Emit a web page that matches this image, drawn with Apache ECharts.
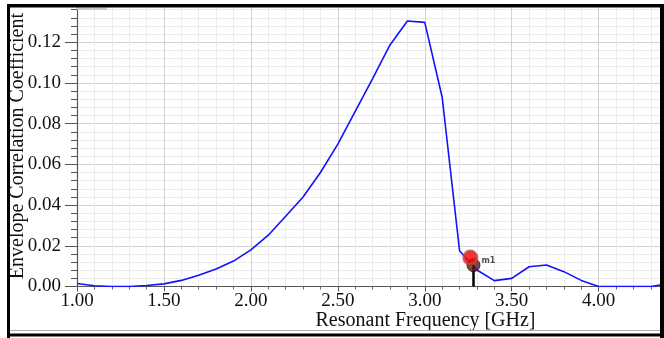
<!DOCTYPE html>
<html>
<head>
<meta charset="utf-8">
<script src="https://cdn.jsdelivr.net/npm/echarts@6/dist/echarts.min.js"></script>
<style>
html,body{margin:0;padding:0;background:#fff;}
#c{width:664px;height:338px;}
</style>
</head>
<body>
<div id="c"></div>
<script>
// Data
const freqGHz = [1.00,1.10,1.20,1.30,1.40,1.50,1.60,1.70,1.80,1.90,2.00,2.10,2.20,2.30,2.40,2.50,2.60,2.70,2.80,2.90,3.00,3.10,3.20,3.30,3.40,3.50,3.60,3.70,3.80,3.90,4.00,4.10,4.20,4.30,4.37];
const ecc     = [0.0015,0.0004,0.0000,0.0000,0.0005,0.0013,0.0030,0.0055,0.0086,0.0125,0.0180,0.0252,0.0345,0.0440,0.0560,0.0700,0.0860,0.1022,0.1187,0.1305,0.1298,0.0930,0.0176,0.0081,0.0029,0.0040,0.0097,0.0106,0.0073,0.0030,0.0000,0.0000,0.0000,0.0000,0.0010];
const markerName = 'm1';
const markerFreq = 3.28;
const markerValue = 0.0105;
const highlightFreq = 3.262;
const highlightValue = 0.0142;
const xTicks = {min:1.0, max:4.37, step:0.5};
const yTicks = {min:0.0, max:0.14, step:0.02};

const chart = echarts.init(document.getElementById('c'), null, {renderer:'canvas'});
const serif = '"Liberation Serif","DejaVu Serif",serif';

const option = {
  backgroundColor:'#ffffff',
  animation:false,
  grid:{left:77, right:1, top:1.6, bottom:51.5, containLabel:false, outerBoundsMode:'none'},
  xAxis:{
    type:'value', min:xTicks.min, max:xTicks.max, interval:xTicks.step,
    name:'Resonant Frequency [GHz]', nameLocation:'middle', nameGap:24, nameMoveOverlap:false,
    nameTextStyle:{fontFamily:serif, fontSize:20, color:'#111', padding:[0,0,0,111]},
    axisLine:{show:true, onZero:false, lineStyle:{color:'#555', width:1.2}},
    axisTick:{show:true, length:5, lineStyle:{color:'#555'}},
    minorTick:{show:true, splitNumber:5, length:3, lineStyle:{color:'#666'}},
    axisLabel:{fontFamily:serif, fontSize:19, color:'#111', margin:5, showMaxLabel:false,
      formatter:v=>v.toFixed(2)},
    splitLine:{show:true, lineStyle:{color:'#d2d2d2', width:1}},
    minorSplitLine:{show:true, lineStyle:{color:'#ececec', width:1}}
  },
  yAxis:{
    type:'value', min:yTicks.min, max:yTicks.max, interval:yTicks.step,
    name:'Envelope Correlation Coefficient', nameLocation:'middle', nameGap:49, nameRotate:90, nameMoveOverlap:false,
    nameTextStyle:{fontFamily:serif, fontSize:20, color:'#111', padding:[0,4,0,0]},
    axisLine:{show:true, lineStyle:{color:'#555', width:1.2}},
    axisTick:{show:true, length:12, lineStyle:{color:'#555'}},
    minorTick:{show:true, splitNumber:5, length:6, lineStyle:{color:'#555'}},
    axisLabel:{fontFamily:serif, fontSize:19, color:'#111', margin:16,
      formatter:v=>v.toFixed(2)},
    splitLine:{show:true, lineStyle:{color:'#d2d2d2', width:1}},
    minorSplitLine:{show:true, lineStyle:{color:'#ececec', width:1}}
  },
  series:[
    {
      type:'line', data:freqGHz.map((f,i)=>[f,ecc[i]]),
      showSymbol:false, symbol:'none', smooth:false,
      lineStyle:{color:'#1212ff', width:1.6}, z:3,
      markLine:{
        silent:true, symbol:['none','none'], animation:false,
        lineStyle:{color:'#000', width:2.5, type:'solid'}, label:{show:false},
        data:[[{coord:[markerFreq,markerValue]},{coord:[markerFreq,0]}]]
      }
    },
    {
      type:'scatter', data:[[markerFreq,markerValue]], symbolSize:13, z:5,
      itemStyle:{color:'#5a1a14', borderColor:'#3a0e0a', borderWidth:1},
      label:{show:true, formatter:markerName, position:'right', offset:[-4,-4],
        fontFamily:'"DejaVu Sans",sans-serif', fontSize:8, fontWeight:'bold', color:'#222'}
    },
    {
      type:'scatter', data:[[highlightFreq,highlightValue]], symbolSize:13, z:6,
      itemStyle:{color:'#ff0000', borderColor:'#c8403a', borderWidth:3}
    }
  ],
  graphic:[
    {type:'rect', z:100, shape:{x:0,y:0,width:664,height:4}, style:{fill:'#fff'}},
    {type:'rect', z:101, shape:{x:7,y:4,width:657,height:3.5}, style:{fill:'#000'}},
    {type:'rect', z:100, shape:{x:77,y:7.5,width:30,height:2.5}, style:{fill:'#c8c8c8'}},
    {type:'rect', z:101, shape:{x:7,y:4,width:3,height:334}, style:{fill:'#000'}},
    {type:'rect', z:100, shape:{x:0,y:0,width:7,height:338}, style:{fill:'#fff'}},
    {type:'rect', z:101, shape:{x:660,y:4,width:4,height:334}, style:{fill:'#000'}},
    {type:'rect', z:100, shape:{x:10,y:330,width:650,height:1}, style:{fill:'#b0b0b0'}},
    {type:'rect', z:101, shape:{x:7,y:333.5,width:657,height:3}, style:{fill:'#000'}},
    {type:'rect', z:100, shape:{x:0,y:336.5,width:664,height:2}, style:{fill:'#fff'}}
  ]
};
chart.setOption(option);
</script>
</body>
</html>
